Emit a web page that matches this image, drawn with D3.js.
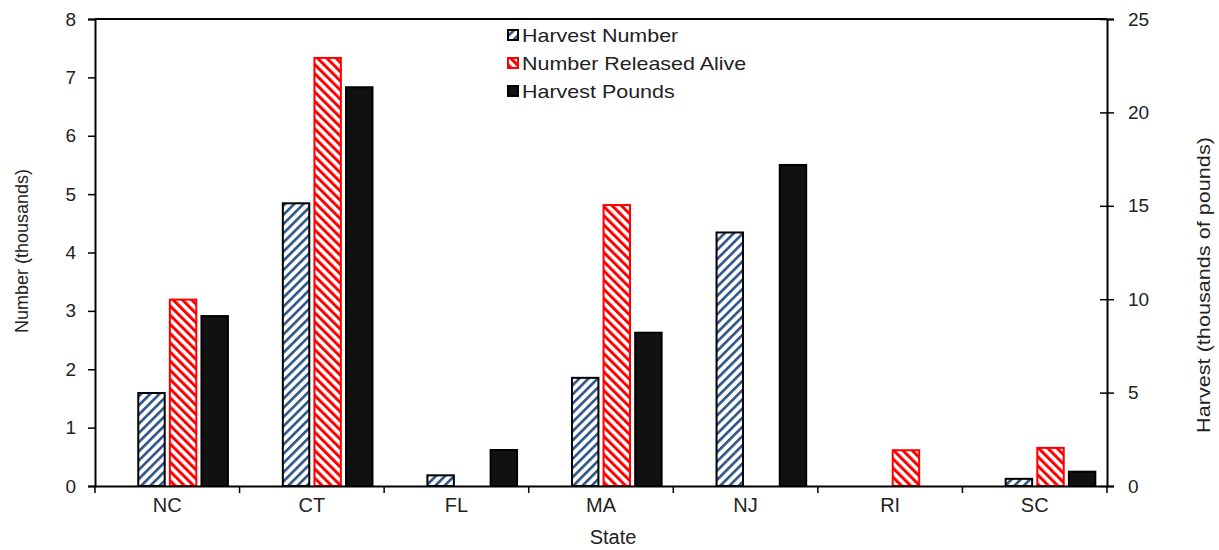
<!DOCTYPE html>
<html><head><meta charset="utf-8">
<script src="https://cdn.jsdelivr.net/npm/d3@7"></script>
<style>body{margin:0;background:#fff}svg{display:block}text{font-family:"Liberation Sans",Arial,sans-serif;fill:#222}</style>
</head><body><svg id="c" width="1219" height="550"></svg>
<script>
const states = ["NC","CT","FL","MA","NJ","RI","SC"];
const harvestNumber = [1.61, 4.86, 0.20, 1.87, 4.36, 0, 0.14];
const releasedAlive = [3.21, 7.35, 0, 4.83, 0, 0.63, 0.67];
const harvestPounds = [9.15, 21.4, 1.98, 8.26, 17.24, 0, 0.82];
const leftTicks = [0,1,2,3,4,5,6,7,8];
const rightTicks = [0,5,10,15,20,25];
const seriesNames = ["Harvest Number","Number Released Alive","Harvest Pounds"];

const svg = d3.select("#c");
const m = {l:95, r:1107, t:19, b:486};
const x = d3.scaleBand().domain(states).range([m.l, m.r]).paddingInner(0).paddingOuter(0);
const slot = d3.scaleBand().domain([0,1,2,3]).range([7.5, x.bandwidth()-7.5]).padding(0.1);
const yL = d3.scaleLinear().domain([0,8]).range([m.b, m.t]);
const yR = d3.scaleLinear().domain([0,25]).range([m.b, m.t]);

const defs = svg.append("defs");
const p1 = defs.append("pattern").attr("id","pBlue").attr("patternUnits","userSpaceOnUse")
  .attr("width",6.5).attr("height",6.5).attr("patternTransform","rotate(45)");
p1.append("rect").attr("width",6.5).attr("height",6.5).attr("fill","#fff");
p1.append("rect").attr("x",0).attr("width",2.6).attr("height",6.5).attr("fill","#2D5487");
const p2 = defs.append("pattern").attr("id","pRed").attr("patternUnits","userSpaceOnUse")
  .attr("width",6.5).attr("height",6.5).attr("patternTransform","rotate(-45)");
p2.append("rect").attr("width",6.5).attr("height",6.5).attr("fill","#fff");
p2.append("rect").attr("x",0).attr("width",3).attr("height",6.5).attr("fill","#FF0000");

function bars(data, idx, scale, fill, stroke){
  svg.append("g").selectAll("rect").data(states.map((s,i)=>({s, v:data[i]})).filter(d=>d.v>0))
    .join("rect")
    .attr("x", d=>x(d.s)+slot(idx)+1)
    .attr("width", slot.bandwidth()-2)
    .attr("y", d=>scale(d.v)+1)
    .attr("height", d=>scale(0)-scale(d.v)-1)
    .attr("fill", fill).attr("stroke", stroke).attr("stroke-width",2);
}
bars(harvestNumber,1,yL,"url(#pBlue)","#000");
bars(releasedAlive,2,yL,"url(#pRed)","#FF0000");
bars(harvestPounds,3,yR,"#111","#000");

// frame
svg.append("line").attr("x1",m.l).attr("x2",m.r).attr("y1",m.t).attr("y2",m.t).attr("stroke","#000").attr("stroke-width",2);

// left axis
const gl = svg.append("g").attr("transform",`translate(${m.l},0)`)
  .call(d3.axisLeft(yL).tickValues(leftTicks).tickSize(7).tickPadding(12));
gl.select(".domain").attr("stroke","#000").attr("stroke-width",2);
gl.selectAll(".tick line").attr("stroke","#000").attr("stroke-width",1.5);
gl.selectAll("text").style("font-size","19px").attr("fill","#222");

// right axis (ticks cross)
const gr = svg.append("g").attr("transform",`translate(${m.r},0)`)
  .call(d3.axisRight(yR).tickValues(rightTicks).tickSize(7).tickPadding(14));
gr.select(".domain").attr("stroke","#000").attr("stroke-width",2);
gr.selectAll(".tick line").attr("stroke","#000").attr("stroke-width",1.5).attr("x1",-7);
gr.selectAll("text").style("font-size","19px").attr("fill","#222");

// bottom axis
const gb = svg.append("g").attr("transform",`translate(0,${m.b})`)
  .call(d3.axisBottom(x).tickSize(0).tickPadding(12));
gb.select(".domain").attr("stroke","#000").attr("stroke-width",2);
gb.selectAll("text").style("font-size","20px").attr("fill","#222").attr("dy","0.72em");
svg.append("g").selectAll("line").data(states.concat(["_end"])).join("line")
  .attr("x1",(d,i)=>m.l+i*x.step()).attr("x2",(d,i)=>m.l+i*x.step())
  .attr("y1",m.b).attr("y2",m.b+7).attr("stroke","#000").attr("stroke-width",1.5);

// axis titles
svg.append("text").attr("transform","translate(28,251) rotate(-90)").attr("text-anchor","middle")
  .style("font-size","18px").text("Number  (thousands)");
svg.append("text").attr("transform","translate(1210,285) rotate(-90) scale(1.17,1)").attr("text-anchor","middle")
  .style("font-size","18.5px").text("Harvest  (thousands of pounds)");
svg.append("text").attr("x",613).attr("y",544).attr("text-anchor","middle")
  .style("font-size","20px").text("State");

// legend
const lg = svg.append("g");
const lfills = ["url(#pBlue)","url(#pRed)","#111"];
const lstrokes = ["#000","#FF0000","#000"];
seriesNames.forEach((n,i)=>{
  const yy = 35 + i*28;
  lg.append("rect").attr("x",508).attr("y",yy-5).attr("width",10).attr("height",10)
    .attr("fill",lfills[i]).attr("stroke",lstrokes[i]).attr("stroke-width",2);
  lg.append("text").attr("transform",`translate(522,${yy+7}) scale(1.13,1)`).style("font-size","19px").text(n);
});
</script></body></html>
